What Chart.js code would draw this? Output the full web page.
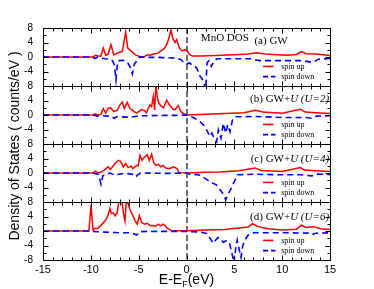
<!DOCTYPE html>
<html lang="en">
<head>
<meta charset="UTF-8">
<title>MnO DOS</title>
<script src="https://cdn.jsdelivr.net/npm/chart.js@4.4.1/dist/chart.umd.min.js"></script>
<style>
    html, body { margin: 0; padding: 0; background: #fff; }
    #wrap { width: 374px; height: 289px; }
</style>
</head>
<body>
<div id="wrap"><canvas id="dosChart" width="374" height="289"></canvas></div>
<script>
    // energies (eV, relative to E_F) and DOS values
    // (a) GW
    const gwUpE  = [-15, -9.8, -9.5, -9.2, -8.95, -8.7, -8.45, -8.2, -7.9, -7.6, -7.3, -7.0, -6.7, -6.36, -6.15, -5.8, -5.3, -4.8, -4.4, -4.1, -3.8, -3.45, -3.0, -2.7, -2.35, -2.07, -1.8, -1.62, -1.45, -1.2, -1.03, -0.75, -0.5, -0.17, 0.05, 0.3, 0.6, 1.5, 3, 5, 6.5, 7.3, 8.2, 9.5, 10.5, 11.5, 12.0, 12.5, 13.5, 15];
    const gwUpDos = [0, 0, 0.5, 0.3, 0.2, 2.5, 0.5, 0.8, 3.4, 0.6, 1.0, 1.3, 1.6, 6.9, 2.5, 1.7, 0.5, 0.1, 0.1, 0.6, 0.5, 0.8, 1.0, 1.7, 2.2, 3.4, 5.6, 7.5, 5.2, 4.0, 4.8, 2.5, 1.7, 2.0, 1.8, 0.7, 0.3, 0.3, 0.4, 0.6, 0.8, 1.2, 0.8, 0.6, 0.5, 0.7, 1.5, 0.9, 0.8, 0.4];
    const gwDnE  = [-15, -9.8, -9.55, -9.3, -8.9, -8.5, -8.0, -7.75, -7.55, -7.37, -7.2, -7.0, -6.6, -6.3, -6.1, -5.85, -5.66, -5.45, -5.2, -4.9, -4.0, -3.0, -2.0, -1.3, -0.6, -0.25, 0.0, 0.3, 0.54, 0.8, 1.06, 1.4, 1.76, 2.0, 2.15, 2.35, 2.6, 2.9, 3.2, 4, 6.8, 7.6, 9, 12, 12.6, 13.2, 13.8, 15];
    const gwDnDos = [0, 0, -0.4, 0, -0.3, -0.5, -0.6, -1.0, -2.1, -6.3, -1.2, -1.0, -0.9, -1.3, -1.8, -3.0, -4.7, -2.0, -1.0, 0, -0.1, -0.1, -0.2, -0.3, -0.7, -1.6, -2.0, -1.6, -2.1, -2.4, -3.0, -5.2, -6.5, -9.0, -1.6, -1.0, -2.6, -1.0, -0.5, -0.5, -0.5, -1.0, -1.0, -1.0, -1.2, -1.5, -0.6, -0.4];

    // (b) GW+U, U=2
    const u2UpE  = [-15, -9.8, -9.55, -9.3, -8.95, -8.7, -8.45, -8.2, -7.95, -7.6, -7.25, -6.95, -6.7, -6.5, -6.2, -5.9, -5.5, -5.2, -4.7, -4.4, -4.2, -3.82, -3.65, -3.47, -3.33, -3.2, -3.05, -2.9, -2.65, -2.4, -2.07, -1.8, -1.6, -1.4, -1.2, -0.86, -0.6, -0.35, 0, 2, 4, 6, 7.2, 8, 10, 11.9, 12.4, 13.5, 15];
    const u2UpDos = [0, 0, 0.3, 0, 0.1, 1.8, 0.5, 1.8, 2.0, 1.0, 1.3, 2.8, 3.5, 1.8, 3.5, 1.8, 1.0, 0.5, 1.5, 1.3, 0.6, 2.8, 2.3, 5.1, 1.4, 8.3, 5.0, 3.3, 2.5, 2.0, 4.1, 2.8, 2.2, 1.6, 1.5, 2.6, 1.0, 0.4, 0, 0.2, 0.4, 0.6, 1.3, 0.8, 0.5, 1.6, 0.8, 0.6, 0.4];
    const u2DnE  = [-15, -9.8, -9.3, -8.8, -8.2, -7.8, -7.55, -7.3, -6.8, -6.0, -5.5, -5.0, -4.0, -2, -1, 0, 0.5, 1.23, 1.76, 2.1, 2.45, 2.65, 2.9, 3.15, 3.33, 3.6, 3.85, 4.1, 4.3, 4.55, 4.8, 5.1, 7, 9, 10, 12.5, 13.1, 13.6, 15];
    const u2DnDos = [0, 0, -0.3, -0.2, -0.3, -0.4, -0.9, -0.5, -0.5, -0.6, -0.5, -0.2, -0.2, -0.1, -0.1, 0, -0.5, -1.4, -2.7, -4.1, -5.9, -5.0, -6.5, -7.4, -4.1, -6.4, -2.3, -5.0, -2.7, -4.6, -1.4, -0.5, -0.4, -0.6, -0.7, -0.7, -0.9, -0.3, -0.2];

    // (c) GW+U, U=4
    const u4UpE  = [-15, -9.8, -9.5, -9.3, -8.95, -8.5, -8.2, -7.95, -7.47, -7.13, -6.9, -6.6, -6.35, -6.1, -5.8, -5.6, -5.2, -5.05, -4.86, -4.65, -4.46, -4.1, -3.9, -3.64, -3.45, -3.2, -2.95, -2.7, -2.45, -2.2, -1.8, -1.35, -1.0, -0.76, 0, 2, 3.5, 5.5, 7.16, 7.8, 10, 11.9, 12.3, 13.5, 15];
    const u4UpDos = [0, 0, 0.5, 0, 0.2, 1.0, 1.7, 1.0, 2.6, 3.5, 3.2, 1.7, 2.6, 1.5, 1.9, 1.2, 2.1, 2.0, 4.9, 3.5, 4.2, 5.1, 3.5, 5.2, 3.0, 2.1, 2.4, 1.7, 2.1, 1.4, 1.2, 1.7, 1.2, 0.1, 0, 0.2, 0.3, 0.6, 1.4, 0.7, 0.4, 1.5, 0.8, 0.6, 0.4];
    const u4DnE  = [-15, -9.8, -9.2, -8.94, -8.75, -8.6, -8.0, -7.5, -7.2, -6.5, -5.7, -5.3, -5.1, -4.8, -2, 0, 0.5, 1.2, 1.9, 2.6, 3.1, 3.5, 3.9, 4.1, 4.3, 4.7, 5.0, 5.35, 6.5, 7.2, 8, 10, 12, 13.1, 13.6, 15];
    const u4DnDos = [0, 0, -0.4, -3.1, -0.8, -0.6, 0, -0.6, -0.4, -0.1, -0.3, -1.1, -0.5, 0, -0.1, 0, -0.5, -0.4, -1.4, -2.7, -3.2, -4.6, -6.0, -7.4, -6.0, -4.1, -2.3, -0.5, -0.4, -0.3, -0.4, -0.5, -0.5, -0.8, -0.3, -0.4];

    // (d) GW+U, U=6
    const u6UpE  = [-15, -10.2, -9.98, -9.77, -9.6, -9.3, -9.0, -8.75, -8.5, -8.35, -8.2, -8.0, -7.85, -7.65, -7.45, -7.25, -7.0, -6.8, -6.6, -6.43, -6.26, -6.1, -5.9, -5.65, -5.38, -5.15, -4.93, -4.7, -4.4, -4.1, -3.8, -3.5, -3.2, -2.95, -2.7, -2.45, -2.2, -2.0, -1.7, -1.5, 0, 2, 4, 6.45, 6.9, 7.5, 8.5, 10, 11.5, 12.0, 12.5, 13.3, 14, 15];
    const u6UpDos = [0, 0, 7.2, 0.3, 0.7, 0.7, 1.4, 2.1, 2.8, 3.5, 4.4, 6.2, 4.8, 5.0, 4.2, 5.0, 9.5, 9.5, 5.0, 2.8, 9.5, 7.5, 5.8, 4.5, 2.8, 1.9, 4.2, 2.4, 1.9, 2.1, 1.5, 1.5, 1.3, 1.9, 1.4, 1.9, 1.4, 0.7, 0.3, 0.1, 0.1, 0.3, 0.4, 1.1, 2.0, 1.2, 0.6, 0.3, 0.5, 1.6, 1.0, 1.2, 0.6, 0.4];
    const u6DnE  = [-15, -10.2, -9.8, -8.5, -7.5, -6.9, -6.0, -5.6, -5.2, -4.9, -4.0, -2, 0, 1.5, 2.1, 2.46, 2.8, 3.05, 3.3, 3.6, 3.85, 4.2, 4.5, 4.79, 4.96, 5.17, 5.3, 5.52, 5.7, 5.86, 6.1, 6.45, 7, 9, 11, 12.8, 13.1, 13.5, 15];
    const u6DnDos = [0, 0, -0.1, -0.3, -0.4, -0.5, -0.5, -0.7, -1.1, -0.2, -0.1, -0.1, -0.1, -0.3, -0.7, -2.0, -3.4, -2.5, -1.8, -2.3, -3.1, -2.6, -3.4, -6.6, -8.8, -4.3, -2.5, -5.3, -7.3, -4.3, -2.5, -1.1, -0.5, -0.5, -0.5, -0.6, -1.0, -0.6, -0.5];

    const xTicks = [-15, -10, -5, 0, 5, 10, 15];
    const yTicks = [8, 4, 0, -4, -8];
    const seriesNames = ['spin up', 'spin down'];

    const pts = (e, v) => e.map((x, i) => ({ x: x, y: v[i] }));

    // panel labels: [text, italic]
    const panels = [
        { id: 'yA', up: pts(gwUpE, gwUpDos), dn: pts(gwDnE, gwDnDos), label: [['(a) GW', false]] },
        { id: 'yB', up: pts(u2UpE, u2UpDos), dn: pts(u2DnE, u2DnDos), label: [['(b) GW+', false], ['U', true], [' ', false], ['(U=2)', true]] },
        { id: 'yC', up: pts(u4UpE, u4UpDos), dn: pts(u4DnE, u4DnDos), label: [['(c) GW+', false], ['U', true], [' ', false], ['(U=4)', true]] },
        { id: 'yD', up: pts(u6UpE, u6UpDos), dn: pts(u6DnE, u6DnDos), label: [['(d) GW+', false], ['U', true], [' ', false], ['(U=6)', true]] }
    ];

    const datasets = [];
    panels.forEach(p => {
        datasets.push({ label: seriesNames[1], data: p.dn, yAxisID: p.id, borderColor: '#0000ff',
            borderWidth: 1.6, borderDash: [6, 4], pointRadius: 0, tension: 0, order: 0 });
    });
    panels.forEach(p => {
        datasets.push({ label: seriesNames[0], data: p.up, yAxisID: p.id, borderColor: '#ff0000',
            borderWidth: 1.5, pointRadius: 0, tension: 0, order: 1 });
    });

    const scales = {
        x: {
            type: 'linear', min: -15, max: 15,
            afterBuildTicks: s => { s.ticks = xTicks.map(v => ({ value: v })); },
            grid: { display: false, drawTicks: false },
            border: { display: false },
            ticks: { autoSkip: false, padding: 3, color: '#000', font: { family: 'Liberation Sans', size: 11 } },
            afterFit: s => { s.height = 29; }
        }
    };
    // stacked axes are laid out bottom-up, so add the last panel first
    panels.slice().reverse().forEach(p => {
        const last = p.id === 'yD';
        scales[p.id] = {
            type: 'linear', position: 'left', stack: 'dos', stackWeight: 1,
            min: -8, max: 8,
            afterBuildTicks: s => { s.ticks = yTicks.map(v => ({ value: v })); },
            grid: { display: false, drawTicks: false },
            border: { display: false },
            ticks: {
                autoSkip: false, padding: 10, color: '#000', font: { family: 'Liberation Sans', size: 10 },
                callback: v => (v === -8 && !last) ? '' : String(v)
            },
            afterFit: s => { s.width = 43; }
        };
    });

    // keep each curve inside its own panel
    const panelClip = {
        id: 'panelClip',
        beforeDatasetDraw(chart, args) {
            const ys = chart.scales[args.meta.yAxisID];
            const ca = chart.chartArea;
            chart.ctx.save();
            chart.ctx.beginPath();
            chart.ctx.rect(ca.left, ys.top, ca.right - ca.left, ys.bottom - ys.top);
            chart.ctx.clip();
        },
        afterDatasetDraw(chart) {
            chart.ctx.restore();
        }
    };

    function drawPieces(ctx, pieces, x, y, size, alignRight) {
        const widths = pieces.map(([t, it]) => {
            ctx.font = (it ? 'italic ' : '') + size + 'px "Liberation Serif"';
            return ctx.measureText(t).width;
        });
        let cx = alignRight ? x - widths.reduce((a, b) => a + b, 0) : x;
        pieces.forEach(([t, it], k) => {
            ctx.font = (it ? 'italic ' : '') + size + 'px "Liberation Serif"';
            ctx.fillText(t, cx, y);
            cx += widths[k];
        });
    }

    const decorations = {
        id: 'decorations',
        beforeDatasetsDraw(chart) {
            const ctx = chart.ctx, ca = chart.chartArea;
            const x0 = Math.round(chart.scales.x.getPixelForValue(0));
            ctx.save();
            ctx.strokeStyle = '#707070';
            ctx.lineWidth = 2;
            ctx.setLineDash([6, 3]);
            ctx.beginPath();
            ctx.moveTo(x0, ca.top);
            ctx.lineTo(x0, ca.bottom);
            ctx.stroke();
            ctx.restore();
        },
        afterDatasetsDraw(chart) {
            const ctx = chart.ctx, ca = chart.chartArea, xs = chart.scales.x;
            ctx.save();
            ctx.strokeStyle = '#000';
            ctx.fillStyle = '#000';
            ctx.lineWidth = 1;
            panels.forEach((p, i) => {
                const ys = chart.scales[p.id];
                const top = Math.round(ys.top) + 0.5, bot = Math.round(ys.bottom) + 0.5;
                const l = Math.round(ca.left) + 0.5, r = Math.round(ca.right) + 0.5;
                ctx.beginPath();
                ctx.rect(l, top, r - l, bot - top);
                for (let e = -15; e <= 15; e++) {
                    const xp = Math.round(xs.getPixelForValue(e)) + 0.5;
                    const len = e % 5 === 0 ? 5 : 3;
                    ctx.moveTo(xp, top); ctx.lineTo(xp, top + len);
                    ctx.moveTo(xp, bot); ctx.lineTo(xp, bot - len);
                }
                for (let v = -8; v <= 8; v += 2) {
                    const yp = Math.round(ys.getPixelForValue(v)) + 0.5;
                    const len = v % 4 === 0 ? 5 : 3;
                    ctx.moveTo(l, yp); ctx.lineTo(l + len, yp);
                    ctx.moveTo(r, yp); ctx.lineTo(r - len, yp);
                }
                ctx.stroke();

                // panel caption
                ctx.textBaseline = 'middle';
                ctx.textAlign = 'left';
                if (i === 0) {
                    drawPieces(ctx, p.label, xs.getPixelForValue(7.1), ys.getPixelForValue(4.3), 11, false);
                    drawPieces(ctx, [['MnO DOS', false]], xs.getPixelForValue(1.5), ys.getPixelForValue(5.3), 11, false);
                } else {
                    drawPieces(ctx, p.label, xs.getPixelForValue(14.9), ys.getPixelForValue(i === 1 ? 4.3 : 3.9), 11, true);
                }

                // legend
                const lx0 = xs.getPixelForValue(8.0), lx1 = xs.getPixelForValue(9.1);
                const yUp = ys.getPixelForValue(-2.6), yDn = ys.getPixelForValue(-5.4);
                ctx.save();
                ctx.lineWidth = 1.6;
                ctx.strokeStyle = '#ff0000';
                ctx.beginPath(); ctx.moveTo(lx0, yUp); ctx.lineTo(lx1, yUp); ctx.stroke();
                ctx.strokeStyle = '#0000ff';
                ctx.setLineDash([5, 3]);
                ctx.beginPath(); ctx.moveTo(lx0, yDn); ctx.lineTo(lx1 + 2, yDn); ctx.stroke();
                ctx.restore();
                ctx.font = '8px "Liberation Serif"';
                const tx = xs.getPixelForValue(9.9);
                ctx.fillText(seriesNames[0], tx, yUp);
                ctx.fillText(seriesNames[1], tx, yDn);
            });

            // axis titles
            ctx.textBaseline = 'middle';
            ctx.font = '14px "Liberation Sans"';
            const mid = (ca.left + ca.right) / 2;
            const w1 = ctx.measureText('E-E').width;
            ctx.font = '9px "Liberation Sans"';
            const w2 = ctx.measureText('F').width;
            ctx.font = '14px "Liberation Sans"';
            const w3 = ctx.measureText('(eV)').width;
            let tx = mid - (w1 + w2 + w3) / 2;
            const ty = 280;
            ctx.fillText('E-E', tx, ty);
            ctx.font = '9px "Liberation Sans"';
            ctx.fillText('F', tx + w1, ty + 5);
            ctx.font = '14px "Liberation Sans"';
            ctx.fillText('(eV)', tx + w1 + w2, ty);

            ctx.translate(15, (ca.top + ca.bottom) / 2 + 2);
            ctx.rotate(-Math.PI / 2);
            ctx.textAlign = 'center';
            ctx.fillText('Density of States ( counts/eV )', 0, 0);
            ctx.restore();
        }
    };

    new Chart(document.getElementById('dosChart'), {
        type: 'line',
        data: { datasets: datasets },
        options: {
            responsive: false,
            animation: false,
            devicePixelRatio: 1,
            layout: { padding: { left: 0, right: 44, top: 28, bottom: 0 } },
            plugins: { legend: { display: false }, tooltip: { enabled: false } },
            scales: scales
        },
        plugins: [panelClip, decorations]
    });
</script>
</body>
</html>
